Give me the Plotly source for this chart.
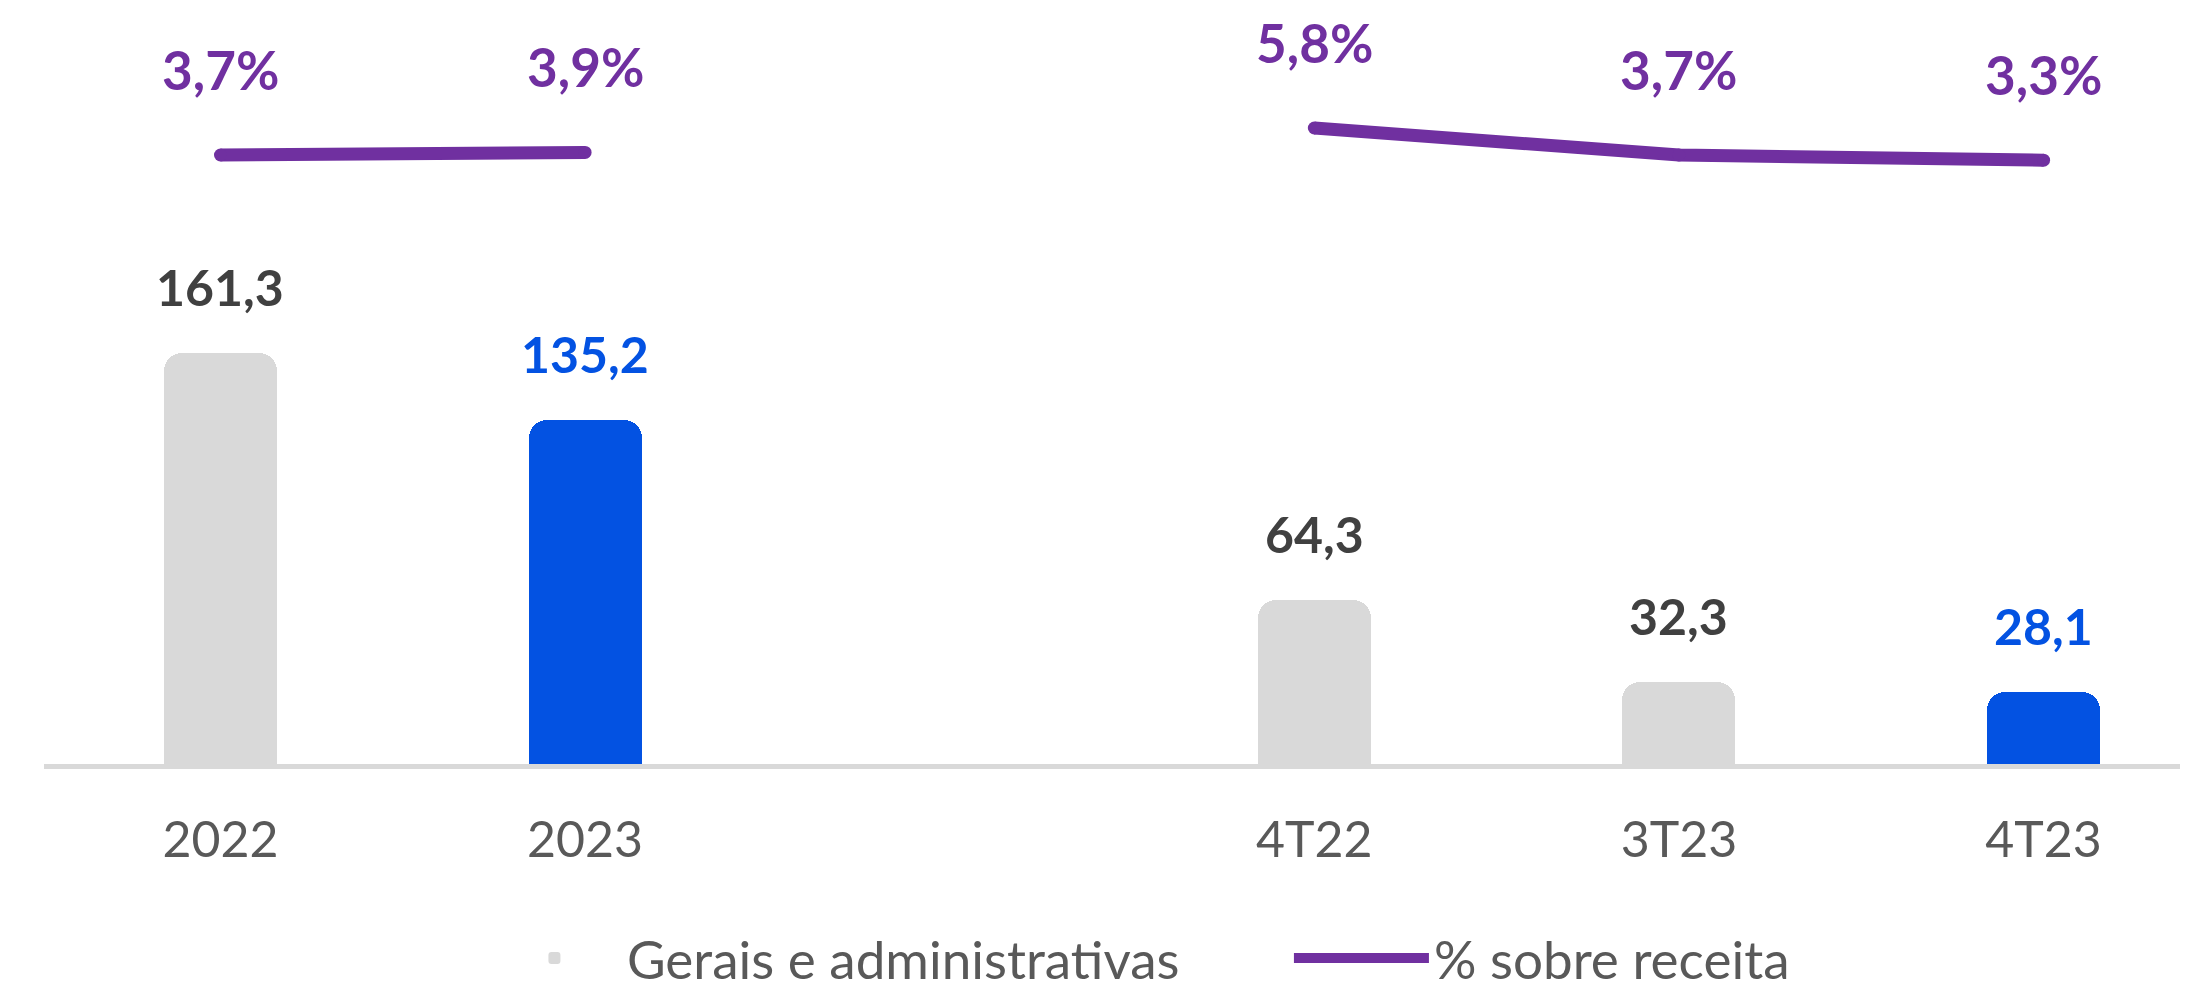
import plotly.graph_objects as go

categories = ["2022", "2023", " ", "4T22", "3T23", "4T23"]
expenses = [161.3, 135.2, None, 64.3, 32.3, 28.1]
pct_revenue = [3.7, 3.9, None, 5.8, 3.7, 3.3]
is_current = [False, True, False, False, False, True]

GREY = "#D9D9D9"
BLUE = "#0352E2"
PURPLE = "#7030A0"
DARK = "#404040"
TICK = "#595959"
FONT = "Lato"

bar_colors = [BLUE if c else GREY for c in is_current]
label_colors = [BLUE if c else DARK for c in is_current]

fig = go.Figure()
fig.add_trace(go.Bar(
    x=categories, y=expenses, name="Gerais e administrativas",
    marker=dict(color=bar_colors, line=dict(width=0)),
    width=0.31, yaxis="y", hoverinfo="skip",
))
fig.add_trace(go.Scatter(
    x=categories, y=pct_revenue, name="% sobre receita",
    mode="lines", line=dict(color=PURPLE, width=13),
    connectgaps=False, yaxis="y2", hoverinfo="skip",
))
fig.add_trace(go.Scatter(
    x=categories, y=pct_revenue, mode="markers",
    marker=dict(color=PURPLE, size=13), showlegend=False,
    yaxis="y2", hoverinfo="skip",
))

def fmt(v, suffix=""):
    return f"{v:.1f}".replace(".", ",") + suffix

annotations = []
for i, (v, col) in enumerate(zip(expenses, label_colors)):
    if v is None:
        continue
    annotations.append(dict(
        x=i, y=v, xref="x", yref="y", text=fmt(v), showarrow=False,
        yanchor="middle", yshift=66,
        font=dict(family=FONT, size=50, color=col, weight="bold"),
    ))
for i, v in enumerate(pct_revenue):
    if v is None:
        continue
    annotations.append(dict(
        x=i, y=v, xref="x", yref="y2", text=fmt(v, "%"), showarrow=False,
        yanchor="middle", yshift=86,
        font=dict(family=FONT, size=53, color=PURPLE, weight="bold"),
    ))

fig.update_layout(
    width=2188, height=991,
    margin=dict(l=36, r=0, t=12, b=991 - 756, autoexpand=False),
    paper_bgcolor="white", plot_bgcolor="white",
    showlegend=True,
    legend=dict(
        orientation="h", x=0.2035, xanchor="left", y=-0.2608, yanchor="middle",
        font=dict(family=FONT, size=53, color=TICK),
        itemwidth=135, entrywidth=657, entrywidthmode="pixels",
    ),
    xaxis=dict(
        type="category", range=[-0.484, 5.418],
        showline=True, linecolor=GREY, linewidth=5,
        showgrid=False, zeroline=False,
        ticks="outside", ticklen=28, tickcolor="rgba(0,0,0,0)",
        tickfont=dict(family=FONT, size=50, color=TICK),
    ),
    yaxis=dict(range=[0, 292.3], visible=False, showgrid=False, zeroline=False),
    yaxis2=dict(range=[-43.66, 14.20], overlaying="y", visible=False,
                showgrid=False, zeroline=False),
    annotations=annotations,
    bargap=0.0,
    barcornerradius=18,
)

fig.write_html("out.html")
